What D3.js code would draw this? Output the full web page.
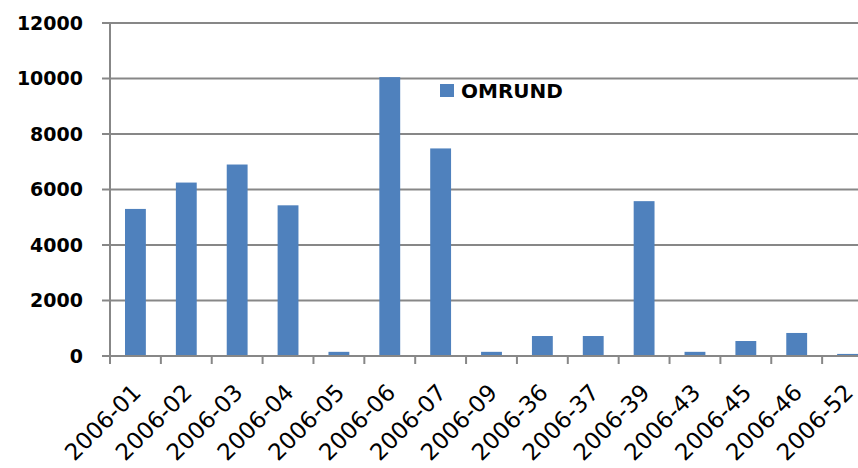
<!DOCTYPE html>
<meta charset="utf-8">
<head>
  <title>OMRUND per week</title>
</head>

<style>
body {
  margin: 0;
  background: #fff;
  font-family: "DejaVu Sans", Verdana, sans-serif;
}
svg { display: block; }
</style>

<body>
  <div id="chart"></div>

  <script src="https://cdnjs.cloudflare.com/ajax/libs/d3/7.8.5/d3.min.js"></script>

  <script>
// data
var weeks = ['2006-01', '2006-02', '2006-03', '2006-04', '2006-05', '2006-06', '2006-07', '2006-09',
  '2006-36', '2006-37', '2006-39', '2006-43', '2006-45', '2006-46', '2006-52'];
var omrund = [5300, 6250, 6900, 5430, 150, 10050, 7480, 150, 720, 720, 5580, 150, 540, 830, 75];
var yTicks = [0, 2000, 4000, 6000, 8000, 10000, 12000];
var seriesName = 'OMRUND';

var W = 858, H = 468;
var plotLeft = 110, plotRight = 873, plotTop = 23, plotBottom = 356;
var grey = '#878787', blue = '#4f81bd';

var svg = d3.select('#chart').append('svg')
  .attr('width', W)
  .attr('height', H);

var x = d3.scaleBand()
  .domain(weeks)
  .range([plotLeft, plotRight])
  .paddingInner(0.59)
  .paddingOuter(0.295);

var y = d3.scaleLinear()
  .domain([0, 12000])
  .range([plotBottom, plotTop]);

// gridlines
svg.append('g')
  .selectAll('line')
  .data(yTicks)
  .join('line')
  .attr('x1', plotLeft - 8)
  .attr('x2', W)
  .attr('y1', function(d) { return y(d); })
  .attr('y2', function(d) { return y(d); })
  .attr('stroke', grey)
  .attr('stroke-width', 2);

// y axis labels
var yAxis = d3.axisLeft(y)
  .tickValues(yTicks)
  .tickSize(0)
  .tickPadding(27)
  .tickFormat(d3.format('d'));

var gy = svg.append('g')
  .attr('transform', 'translate(' + plotLeft + ',0)')
  .call(yAxis);
gy.select('.domain').remove();
gy.selectAll('text')
  .attr('fill', '#000')
  .style('font-family', '"DejaVu Sans", Verdana, sans-serif')
  .style('font-weight', 'bold')
  .style('font-size', '19px');

// bars
svg.append('g')
  .selectAll('rect')
  .data(omrund)
  .join('rect')
  .attr('x', function(d, i) { return x(weeks[i]); })
  .attr('width', x.bandwidth())
  .attr('y', function(d) { return y(d); })
  .attr('height', function(d) { return plotBottom - y(d); })
  .attr('fill', blue);

// vertical axis line
svg.append('line')
  .attr('x1', plotLeft).attr('x2', plotLeft)
  .attr('y1', plotTop - 1).attr('y2', plotBottom + 8)
  .attr('stroke', grey)
  .attr('stroke-width', 2);

// x axis: ticks on the category borders
svg.append('g')
  .selectAll('line')
  .data(weeks)
  .join('line')
  .attr('x1', function(d) { return x(d) + x.bandwidth() / 2 + x.step() / 2; })
  .attr('x2', function(d) { return x(d) + x.bandwidth() / 2 + x.step() / 2; })
  .attr('y1', plotBottom)
  .attr('y2', plotBottom + 8)
  .attr('stroke', grey)
  .attr('stroke-width', 2);

svg.append('line')
  .attr('x1', plotLeft).attr('x2', W)
  .attr('y1', plotBottom).attr('y2', plotBottom)
  .attr('stroke', grey)
  .attr('stroke-width', 2);

var xAxis = d3.axisBottom(x).tickSize(0);
var gx = svg.append('g')
  .attr('transform', 'translate(0,' + plotBottom + ')')
  .call(xAxis);
gx.select('.domain').remove();
gx.selectAll('text')
  .attr('fill', '#000')
  .attr('text-anchor', 'end')
  .attr('dy', 0)
  .attr('y', 0)
  .attr('transform', 'translate(7,38) rotate(-45)')
  .style('font-family', '"DejaVu Sans", Verdana, sans-serif')
  .style('font-size', '23px');

// legend
var legend = svg.append('g')
  .attr('transform', 'translate(440,84)');
legend.append('rect')
  .attr('width', 14)
  .attr('height', 13)
  .attr('fill', blue);
legend.append('text')
  .attr('x', 21)
  .attr('y', 14)
  .attr('fill', '#000')
  .style('font-weight', 'bold')
  .style('font-size', '20px')
  .text(seriesName);
  </script>
</body>
</html>
